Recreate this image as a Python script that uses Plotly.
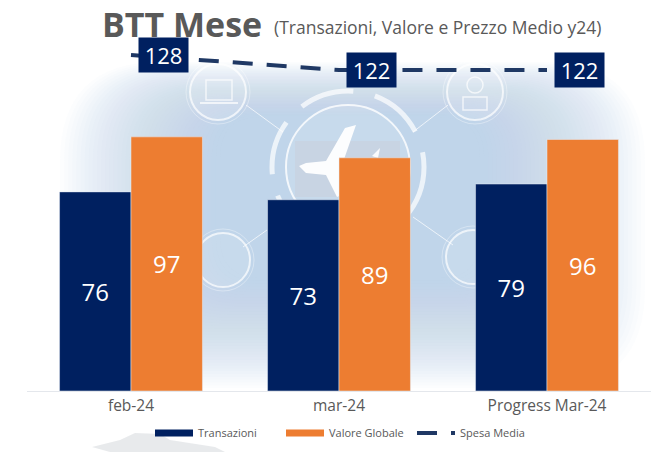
import plotly.graph_objects as go

categories = ["feb-24", "mar-24", "Progress Mar-24"]
transazioni = [76, 73, 79]
valore_globale = [97, 89, 96]
spesa_media = [128, 122, 122]

NAVY = "#002060"
ORANGE = "#ED7D31"
LINE = "#1F3864"
GREY = "#595959"
FONT = "Open Sans"

W, H = 672, 452
def px(x): return x / W
def py(y): return 1 - y / H

BASE = 391
SCALE_BAR = 2.62
SCALE_LINE = 2.5

fig = go.Figure()
fig.add_trace(go.Bar(name="Transazioni", x=categories, y=transazioni, marker_color=NAVY, showlegend=False,
                     text=transazioni, textposition="inside", insidetextanchor="middle", textangle=0,
                     textfont=dict(color="white", size=24, family=FONT)))
fig.add_trace(go.Bar(name="Valore Globale", x=categories, y=valore_globale, marker_color=ORANGE, showlegend=False,
                     text=valore_globale, textposition="inside", insidetextanchor="middle", textangle=0,
                     textfont=dict(color="white", size=24, family=FONT)))
fig.add_trace(go.Scatter(name="Spesa Media", x=categories, y=spesa_media, yaxis="y2", mode="lines", showlegend=False,
                         line=dict(color=LINE, width=4, dash="20px 14px")))
# legend entries with the reference's wide swatches
for name, color, width, dash in [("Transazioni", NAVY, 7, "solid"), ("Valore Globale", ORANGE, 7, "solid"),
                                 ("Spesa Media", LINE, 4, "20px 14px")]:
    fig.add_trace(go.Scatter(name=name, x=[categories[0]], y=[None], mode="lines",
                             line=dict(color=color, width=width, dash=dash)))

for c, v in zip(categories, spesa_media):
    fig.add_annotation(x=c, y=v, yref="y2", text=str(v), showarrow=False, xshift=32,
                       bgcolor=NAVY, font=dict(color="white", size=22, family=FONT),
                       width=49, height=34, borderpad=0)

fig.add_annotation(xref="paper", yref="paper", x=px(100), y=py(23.5), xanchor="left", yanchor="middle",
                   text="<b>BTT Mese</b>", showarrow=False,
                   font=dict(size=34, color=GREY, family=FONT))
fig.add_annotation(xref="paper", yref="paper", x=px(272), y=py(27), xanchor="left", yanchor="middle",
                   text="(Transazioni, Valore e Prezzo Medio y24)", showarrow=False,
                   font=dict(size=17.5, color=GREY, family=FONT))

shapes = []
def add(**k):
    k.setdefault("xref", "paper"); k.setdefault("yref", "paper"); k.setdefault("layer", "below")
    shapes.append(k)

def rounded(x0, y0, x1, y1, r):
    X0, X1, Y0, Y1 = px(x0), px(x1), py(y0), py(y1)
    rx, ry = r / W, r / H
    return (f"M{X0+rx},{Y0} L{X1-rx},{Y0} Q{X1},{Y0} {X1},{Y0-ry} L{X1},{Y1+ry} Q{X1},{Y1} {X1-rx},{Y1} "
            f"L{X0+rx},{Y1} Q{X0},{Y1} {X0},{Y1+ry} L{X0},{Y0-ry} Q{X0},{Y0} {X0+rx},{Y0} Z")

# soft pale blue backdrop
N = 40
for i in range(N):
    f = i / (N - 1)
    add(type="path", path=rounded(60 + 160 * f, 62 + 55 * f, 645 - 165 * f, 388 - 110 * f, 100 - 60 * f),
        line_width=0, fillcolor="rgba(198,216,231,0.046)")

WH = "rgba(255,255,255,0.7)"
def ring(cx, cy, r, color=WH, width=1.5, fill="rgba(255,255,255,0.12)", dash="solid"):
    add(type="circle", x0=px(cx - r), x1=px(cx + r), y0=py(cy + r), y1=py(cy - r),
        line=dict(color=color, width=width, dash=dash), fillcolor=fill)
def seg(x0, y0, x1, y1, color=WH, width=1):
    add(type="line", x0=px(x0), x1=px(x1), y0=py(y0), y1=py(y1), line=dict(color=color, width=width))
def poly(points, color):
    d = "M" + " L".join(f"{px(x)},{py(y)}" for x, y in points) + " Z"
    add(type="path", path=d, line_width=0, fillcolor=color)

# connectors
seg(246, 105, 283, 132); seg(448, 105, 413, 132); seg(243, 247, 267, 230); seg(453, 245, 413, 217)
# icon rings
for cx, cy, r in [(218, 92, 28), (475, 92, 28), (223, 260, 27), (473, 257, 27)]:
    ring(cx, cy, r, width=2)
    ring(cx, cy, r + 4, color="rgba(255,255,255,0.35)", width=1, fill="rgba(0,0,0,0)")
# laptop icon
add(type="rect", x0=px(206), x1=px(232), y0=py(100), y1=py(80), line=dict(color=WH, width=1.5), fillcolor="rgba(0,0,0,0)")
seg(200, 103, 238, 103, width=2)
# person icon
ring(475, 85, 8, width=1.5, fill="rgba(0,0,0,0)")
add(type="rect", x0=px(463), x1=px(487), y0=py(110), y1=py(97), line=dict(color=WH, width=1.5), fillcolor="rgba(0,0,0,0)")
# central hub: grey panel, rings, plane
add(type="rect", x0=px(295), x1=px(400), y0=py(197), y1=py(141), line_width=0, fillcolor="rgba(195,195,205,0.35)")
ring(348, 167, 62, color="rgba(255,255,255,0.8)", width=2, fill="rgba(255,255,255,0.12)")
ring(348, 167, 76, color="rgba(255,255,255,0.7)", width=5, fill="rgba(0,0,0,0)", dash="55px 22px")
poly([(299, 166), (306, 163), (326, 161), (345, 128), (356, 125), (342, 165), (342, 195), (337, 197),
      (326, 175), (306, 173)], "rgba(255,255,255,0.95)")
poly([(372, 156), (380, 148), (378, 158)], "rgba(255,255,255,0.9)")
# faint world map at the foot of the page
poly([(92, 447), (120, 440), (135, 433), (160, 434), (170, 440), (215, 447), (225, 452), (110, 452)],
     "rgba(214,216,220,0.55)")

fig.update_layout(
    width=W, height=H, autosize=False,
    margin=dict(l=0, r=0, t=0, b=0, autoexpand=False),
    paper_bgcolor="white", plot_bgcolor="rgba(0,0,0,0)",
    barmode="group", bargap=0.313, bargroupgap=0,
    shapes=shapes,
    font=dict(family=FONT, color=GREY),
    xaxis=dict(domain=[px(27), px(651)], anchor="y", showgrid=False, tickfont=dict(size=15.5, color=GREY),
               showline=True, linecolor="#E4E7EC", ticks=""),
    yaxis=dict(domain=[py(BASE), 1], range=[0, BASE / SCALE_BAR], visible=False),
    yaxis2=dict(domain=[py(BASE), 1], overlaying="y",
                range=[128 - (BASE - 55) / SCALE_LINE, 128 + 55 / SCALE_LINE], visible=False),
    legend=dict(orientation="h", x=px(150), y=py(433), xanchor="left", yanchor="middle",
                font=dict(size=11, color=GREY), bgcolor="rgba(0,0,0,0)", traceorder="normal",
                itemwidth=38, entrywidth=78, entrywidthmode="pixels"),
    showlegend=True,
)
# remove the browser's default page margin so the 672x452 figure fills the window exactly
fig.write_html("out.html", config=dict(displayModeBar=False),
               post_script="document.body.style.margin='0';document.documentElement.style.overflow='hidden';")
